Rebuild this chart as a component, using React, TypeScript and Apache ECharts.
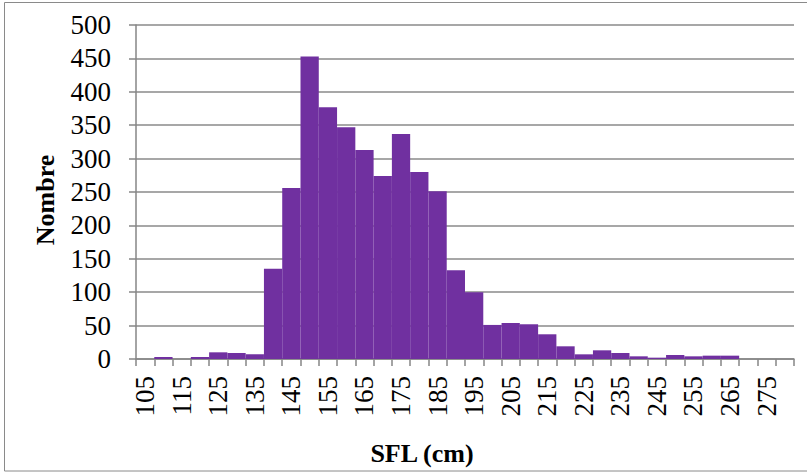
import React, { useEffect, useRef } from "react";
import * as echarts from "echarts";

const categories: string[] = [
  "105", "110", "115", "120", "125", "130", "135", "140", "145", "150", "155", "160",
  "165", "170", "175", "180", "185", "190", "195", "200", "205", "210", "215", "220",
  "225", "230", "235", "240", "245", "250", "255", "260", "265", "270", "275", "280",
];
const counts: number[] = [
  0, 3, 0, 3, 10, 9, 7, 135, 256, 453, 377, 347,
  313, 274, 337, 280, 251, 133, 100, 51, 54, 52, 37, 19,
  7, 13, 9, 4, 2, 6, 4, 5, 5, 0, 0, 0,
];
const yTitle = "Nombre";
const xTitle = "SFL (cm)";

const FONT = "'Liberation Serif', 'Times New Roman', serif";

export default function App() {
  const ref = useRef<HTMLDivElement>(null);
  useEffect(() => {
    document.body.style.margin = "0";
    if (!ref.current) return;
    const chart = echarts.init(ref.current, undefined, { renderer: "svg" });
    chart.setOption({
      animation: false,
      backgroundColor: "#ffffff",
      grid: { left: 136, right: 13, top: 25, bottom: 113, containLabel: false },
      xAxis: {
        type: "category",
        data: categories,
        boundaryGap: true,
        axisLine: { show: true, lineStyle: { color: "#868686", width: 1.5 } },
        axisTick: { show: true, interval: 0, length: 7, lineStyle: { color: "#868686", width: 1.5 } },
        axisLabel: {
          interval: 1,
          rotate: 90,
          margin: 17,
          color: "#000",
          fontFamily: FONT,
          fontSize: 27,
        },
        splitLine: { show: false },
      },
      yAxis: {
        type: "value",
        min: 0,
        max: 500,
        interval: 50,
        axisLine: { show: true, lineStyle: { color: "#868686", width: 1.5 } },
        axisTick: { show: true, length: 7, lineStyle: { color: "#868686", width: 1.5 } },
        axisLabel: {
          margin: 25,
          color: "#000",
          fontFamily: FONT,
          fontSize: 27,
        },
        splitLine: { show: true, lineStyle: { color: "#8a8a8a", width: 1.5 } },
      },
      series: [
        {
          type: "bar",
          data: counts,
          barCategoryGap: "0%",
          itemStyle: { color: "#7030A0" },
        },
      ],
      graphic: [
        {
          type: "rect",
          silent: true,
          shape: { x: 4.5, y: 2.5, width: 803, height: 468.5 },
          style: { fill: "none", stroke: "#8a8a8a", lineWidth: 1 },
        },
        {
          type: "text",
          x: 45,
          y: 200,
          rotation: Math.PI / 2,
          style: {
            text: yTitle,
            font: `bold 26px ${FONT}`,
            fill: "#000",
            align: "center",
            verticalAlign: "middle",
          },
        },
        {
          type: "text",
          x: 422,
          y: 453,
          style: {
            text: xTitle,
            font: `bold 26px ${FONT}`,
            fill: "#000",
            align: "center",
            verticalAlign: "middle",
          },
        },
      ],
    });
    return () => chart.dispose();
  }, []);
  return <div ref={ref} style={{ width: 807, height: 472 }} />;
}
